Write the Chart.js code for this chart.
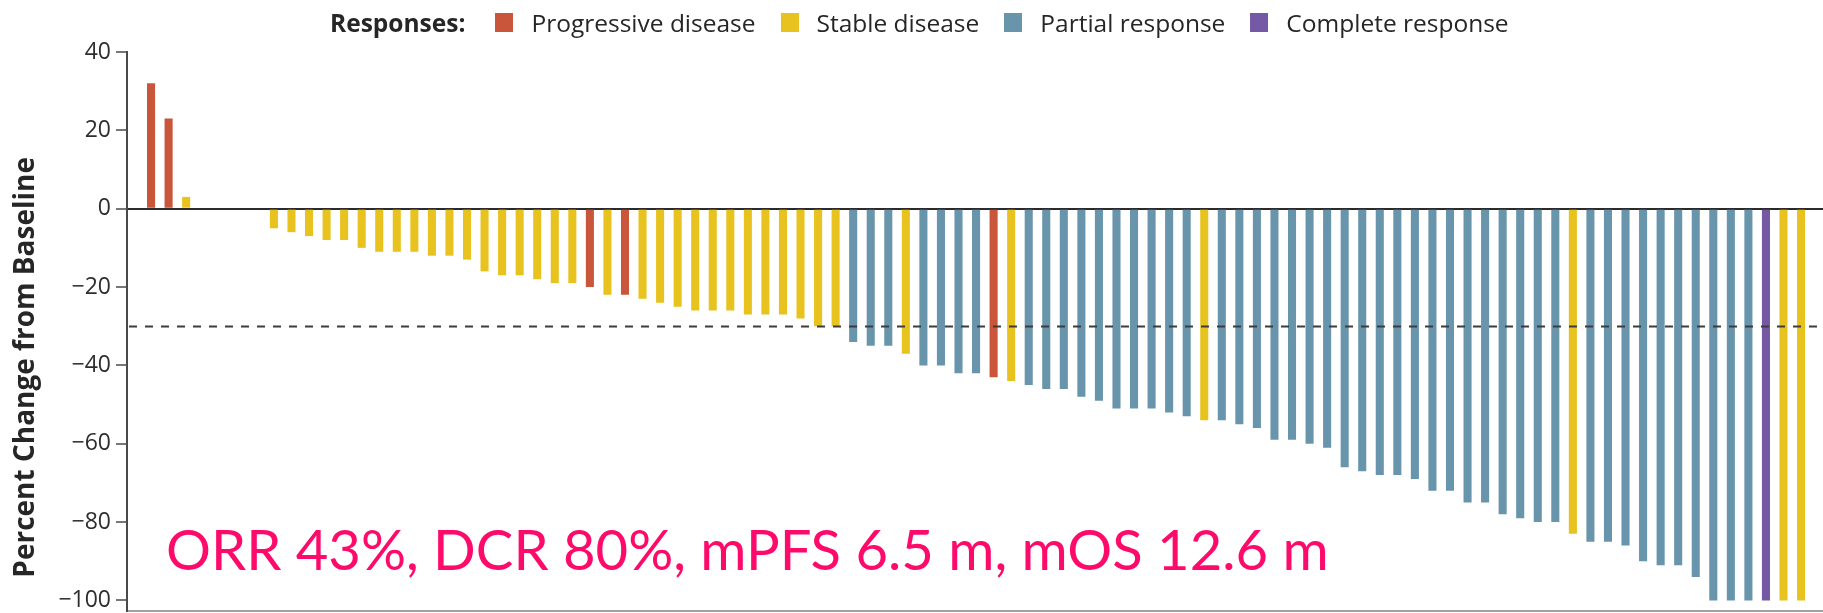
<!DOCTYPE html>
<html>
<head>
<meta charset="utf-8">
<title>Best percent change from baseline</title>
<script src="https://cdn.jsdelivr.net/npm/chart.js@4.4.1/dist/chart.umd.min.js"></script>
<style>
  html, body { margin: 0; padding: 0; background: #ffffff; }
  #wrap { position: relative; width: 1823px; height: 613px; overflow: hidden; }
  #legend {
    position: absolute; top: 6px; left: 330px;
    display: flex; align-items: center; white-space: nowrap;
    font-family: "Open Sans", sans-serif; font-size: 24.5px; color: #262626;
  }
  #legend .head { font-weight: 700; margin-right: 30px; }
  #legend .item { display: flex; align-items: center; margin-right: 25px; }
  #legend .sw { width: 18px; height: 19px; margin-right: 18px; }
  canvas { display: block; }
</style>
</head>
<body>
<div id="wrap">
  <canvas id="chart" width="1823" height="613"></canvas>
  <div id="legend"></div>
</div>
<script>
// Best percent change from baseline per patient, sorted left to right
const changes = [
  32, 23, 3, 0, 0, 0, 0,
  -5, -6, -7, -8, -8, -10, -11, -11, -11, -12, -12, -13, -16, -17, -17, -18, -19, -19,
  -20, -22, -22, -23, -24, -25, -26, -26, -26, -27, -27, -27, -28, -30, -30,
  -34, -35, -35, -37, -40, -40, -42, -42, -43, -44, -45, -46, -46, -48, -49,
  -51, -51, -51, -52, -53, -54, -54, -55, -56, -59, -59, -60, -61, -66, -67,
  -68, -68, -69, -72, -72, -75, -75, -78, -79, -80, -80, -83, -85, -85, -86,
  -90, -91, -91, -94, -100, -100, -100, -100, -100, -100
];

// Best overall response for each patient (same order as changes)
const responses = [
  'PD', 'PD', 'SD', 'SD', 'SD', 'SD', 'SD',
  'SD', 'SD', 'SD', 'SD', 'SD', 'SD', 'SD', 'SD', 'SD', 'SD', 'SD', 'SD', 'SD', 'SD', 'SD', 'SD', 'SD', 'SD',
  'PD', 'SD', 'PD', 'SD', 'SD', 'SD', 'SD', 'SD', 'SD', 'SD', 'SD', 'SD', 'SD', 'SD', 'SD',
  'PR', 'PR', 'PR', 'SD', 'PR', 'PR', 'PR', 'PR', 'PD', 'SD', 'PR', 'PR', 'PR', 'PR', 'PR',
  'PR', 'PR', 'PR', 'PR', 'PR', 'SD', 'PR', 'PR', 'PR', 'PR', 'PR', 'PR', 'PR', 'PR', 'PR',
  'PR', 'PR', 'PR', 'PR', 'PR', 'PR', 'PR', 'PR', 'PR', 'PR', 'PR', 'SD', 'PR', 'PR', 'PR',
  'PR', 'PR', 'PR', 'PR', 'PR', 'PR', 'PR', 'CR', 'SD', 'SD'
];

const responseCodes = ['PD', 'SD', 'PR', 'CR'];
const responseNames = ['Progressive disease', 'Stable disease', 'Partial response', 'Complete response'];
const responseColors = ['#c9553b', '#e8c31f', '#6895ab', '#7659a5'];

const yTickValues = [40, 20, 0, -20, -40, -60, -80, -100];
const partialResponseCutoff = -30;
const yAxisTitle = 'Percent Change from Baseline';
const legendTitle = 'Responses:';
const summaryText = 'ORR 43%, DCR 80%, mPFS 6.5 m, mOS 12.6 m';

const FONT = '"Open Sans", "DejaVu Sans", sans-serif';

// legend row
const legendEl = document.getElementById('legend');
const head = document.createElement('span');
head.className = 'head';
head.textContent = legendTitle;
legendEl.appendChild(head);
responseNames.forEach((name, i) => {
  const item = document.createElement('span');
  item.className = 'item';
  const sw = document.createElement('span');
  sw.className = 'sw';
  sw.style.background = responseColors[i];
  const tx = document.createElement('span');
  tx.textContent = name;
  item.appendChild(sw);
  item.appendChild(tx);
  legendEl.appendChild(item);
});

const colorFor = code => responseColors[responseCodes.indexOf(code)];
const points = changes.map((v, i) => ({ x: i + 1, y: v }));

// dashed 30% shrinkage reference line, drawn over the bars
const cutoffLine = {
  id: 'cutoffLine',
  afterDatasetsDraw(chart) {
    const { ctx, chartArea, scales } = chart;
    const y = Math.round(scales.y.getPixelForValue(partialResponseCutoff)) + 0.5;
    ctx.save();
    ctx.strokeStyle = '#3c3c3c';
    ctx.lineWidth = 2;
    ctx.setLineDash([8, 8]);
    ctx.beginPath();
    ctx.moveTo(chartArea.left + 2, y);
    ctx.lineTo(chartArea.right, y);
    ctx.stroke();
    ctx.restore();
  }
};

// rotated y-axis title and the summary annotation
const overlayText = {
  id: 'overlayText',
  afterDraw(chart) {
    const { ctx, chartArea, scales } = chart;
    ctx.save();
    ctx.fillStyle = '#262626';
    ctx.font = '700 28px ' + FONT;
    ctx.textAlign = 'center';
    ctx.textBaseline = 'middle';
    ctx.translate(26, scales.y.getPixelForValue(-40.5));
    ctx.rotate(-Math.PI / 2);
    ctx.fillText(yAxisTitle, 0, 0);
    ctx.restore();

    ctx.save();
    ctx.font = '400 100px Lato, ' + FONT;
    const w100 = ctx.measureText(summaryText).width;
    const size = 100 * 1162 / w100;
    ctx.font = '400 ' + size.toFixed(1) + 'px Lato, ' + FONT;
    ctx.fillStyle = '#fe0a6b';
    ctx.textAlign = 'left';
    ctx.textBaseline = 'alphabetic';
    ctx.fillText(summaryText, chartArea.left + 39, 570);
    ctx.restore();
  }
};

new Chart(document.getElementById('chart'), {
  type: 'bar',
  data: {
    datasets: [{
      data: points,
      backgroundColor: responses.map(colorFor),
      borderWidth: 0,
      barPercentage: 0.46,
      categoryPercentage: 1.0
    }]
  },
  options: {
    responsive: false,
    animation: false,
    layout: { padding: { top: 52, right: 0, bottom: 0, left: 0 } },
    plugins: { legend: { display: false }, tooltip: { enabled: false } },
    scales: {
      x: {
        type: 'linear',
        offset: false,
        min: -0.37,
        max: 96.25,
        ticks: { display: false },
        grid: { display: false },
        border: { display: true, color: '#a0a0a0', width: 2 },
        afterFit(scale) { scale.height = 2; scale.paddingLeft = 0; scale.paddingRight = 0; }
      },
      y: {
        min: -102.7,
        max: 40,
        afterBuildTicks(scale) { scale.ticks = yTickValues.map(v => ({ value: v })); },
        afterFit(scale) { scale.width = 127; scale.paddingBottom = 0; scale.paddingTop = 0; },
        ticks: {
          color: '#2e2e2e',
          font: { family: FONT, size: 23 },
          padding: 5,
          callback: v => (v < 0 ? '\u2212' + Math.abs(v) : String(v))
        },
        grid: {
          drawOnChartArea: true,
          color: c => (c.tick && c.tick.value === 0 ? '#2b2b2b' : 'rgba(0,0,0,0)'),
          lineWidth: 2,
          tickColor: '#4a4a4a',
          tickLength: 11,
          tickWidth: 1.5
        },
        border: { display: true, color: '#4a4a4a', width: 2 }
      }
    }
  },
  plugins: [cutoffLine, overlayText]
});
</script>
</body>
</html>
